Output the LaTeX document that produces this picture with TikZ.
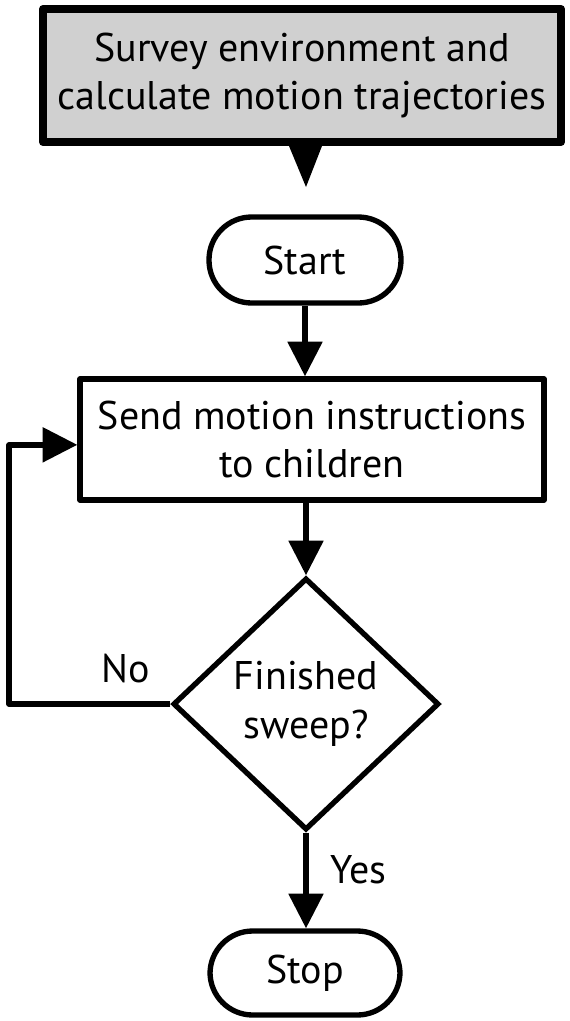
\documentclass[tikz,border=0pt]{standalone}
\usepackage{fontspec}
\setmainfont{PT Sans}
\usetikzlibrary{arrows.meta,shapes.geometric}
\definecolor{survey_gray}{RGB}{208,208,208}
\tikzset{
  flow_text/.style={font=\fontsize{30}{36.5}\selectfont, align=center, inner sep=0pt},
  flow_box/.style={flow_text, draw, line width=4pt, rectangle, line join=round},
  flow_term/.style={flow_box, rounded corners=32pt},
  flow_dec/.style={flow_text, draw, line width=4pt, diamond, line join=miter},
  flow_arrow/.style={line width=4pt, line join=round, -{Triangle[length=26pt,width=25.5pt]}},
}
\def\PixelScale {0.75pt}

\begin{document}
\begin{tikzpicture}[x=\PixelScale,y=-\PixelScale]
        \useasboundingbox (0,0) rectangle (570,1021);
        % boxes
        \node[flow_box, line width=6pt, fill=survey_gray, minimum width=388.5pt, minimum height=99.75pt]
          (survey) at (302,75.5) {Survey environment and\\calculate motion trajectories};
        \node[flow_term, minimum width=144pt, minimum height=64.5pt] (start) at (305,260) {Start};
        \node[flow_box, minimum width=348pt, minimum height=90.75pt]
          (send) at (312,439.5) {Send motion instructions\\to children};
        \node[flow_dec, minimum width=199.5pt, minimum height=189pt] (sweep) at (306,704) {Finished\\sweep?};
        \node[flow_term, minimum width=142.5pt, minimum height=63pt] (stop) at (305,973) {Stop};
        % pointer under the survey box
        \fill (survey.south -| start.north) ++(-16,0) -- ++(33,0) -- ++(-16,41) -- cycle;
        % connectors
        \draw[flow_arrow] (start.south) -- (start.south |- send.north);
        \draw[flow_arrow] (sweep.north |- send.south) -- (sweep.north);
        \draw[flow_arrow] (sweep.south) -- (sweep.south |- stop.north);
        \coordinate (loop_x) at (9,0);
        \draw[flow_arrow] (sweep.west) -- (sweep.west -| loop_x) |- ([yshift=-4pt]send.west);
        % labels
        \node[flow_text, anchor=base] (no) at (125.5,682) {No};
        \node[flow_text, anchor=base] (yes) at (358.5,883) {Yes};
      \end{tikzpicture}
\end{document}
